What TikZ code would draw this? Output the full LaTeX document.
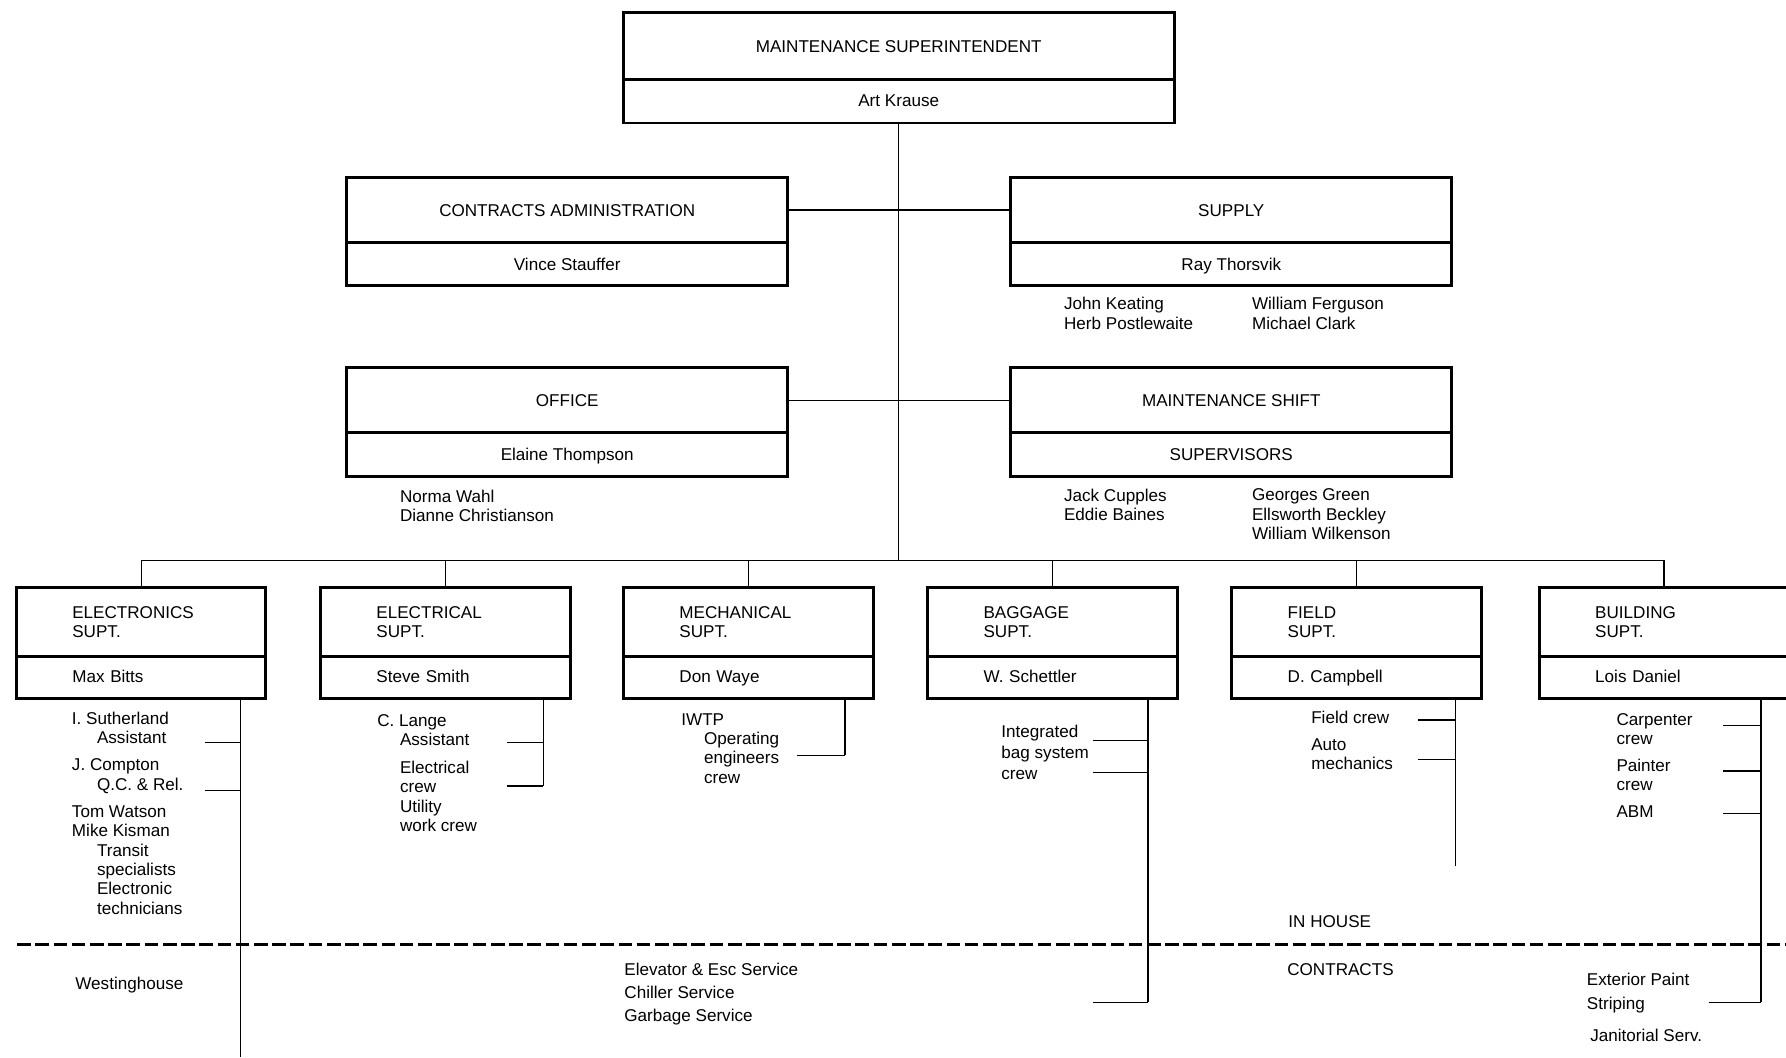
\documentclass[tikz,border=0pt]{standalone}
\usepackage{fontspec}
\setmainfont{Liberation Sans}
\usetikzlibrary{positioning}
\tikzstyle{headbox} = [rectangle, draw=black, line width=2.6pt, outer sep=0pt, text centered, inner sep=0pt, font=\fontsize{15}{17}\selectfont]
\tikzstyle{midbox} = [headbox, minimum width=387pt, minimum height=57pt]
\tikzstyle{midname} = [headbox, minimum width=387pt, minimum height=38pt, text height=14pt, text depth=3pt]
\tikzstyle{deptbox} = [rectangle, draw=black, line width=2.6pt, outer sep=0pt, align=left, text width=121pt, inner xsep=49pt, inner ysep=0pt, minimum height=60pt, font=\fontsize{15}{17}\selectfont]
\tikzstyle{deptname} = [deptbox, minimum height=37pt, text height=12pt, text depth=3pt]
\tikzstyle{staff} = [anchor=north west, align=left, inner sep=0pt, font=\fontsize{15}{17}\selectfont]
\tikzstyle{link} = [line width=1.2pt]
\tikzstyle{split} = [line width=3pt, dash pattern=on 12pt off 4pt]

\begin{document}
\begin{tikzpicture}[x=1pt, y=-1pt]
\useasboundingbox (0,0) rectangle (1568,928);

\node (supt) [headbox, minimum width=484pt, minimum height=59pt] at (789,40.5) {MAINTENANCE SUPERINTENDENT};
\node (suptname) [headbox, minimum width=484pt, minimum height=38pt, text height=12pt, text depth=3pt, below=0pt of supt] {Art Krause};

\node (contract) [midbox] at (498,184.5) {CONTRACTS ADMINISTRATION};
\node (contractname) [midname, below=0pt of contract] {Vince Stauffer};
\node (supply) [midbox] at (1081,184.5) {SUPPLY};
\node (supplyname) [midname, below=0pt of supply] {Ray Thorsvik};
\node (office) [midbox] at (498,351.5) {OFFICE};
\node (officename) [midname, below=0pt of office] {Elaine Thompson};
\node (shift) [midbox] at (1081,351.5) {MAINTENANCE SHIFT};
\node (shiftname) [midname, below=0pt of shift] {SUPERVISORS};

\node (supplyA) [staff] at (934,261) {John Keating\\Herb Postlewaite};
\node (supplyB) [staff] at (1099,261) {William Ferguson\\Michael Clark};
\node (officeA) [staff] at (351,430) {Norma Wahl\\Dianne Christianson};
\node (shiftA) [staff] at (934,429) {Jack Cupples\\Eddie Baines};
\node (shiftB) [staff] at (1099,429) {Georges Green\\Ellsworth Beckley\\William Wilkenson};

\coordinate (bus) at (789,492);
\draw [link] (suptname.south) -- (bus);
\draw [link] (contract.east) -- (supply.west);
\draw [link] (office.east) -- (shift.west);

% departments
\node (elnx) [deptbox] at (124,546) {ELECTRONICS\\SUPT.};
\node (elnxname) [deptname, below=0pt of elnx] {Max Bitts};
\node (elec) [deptbox] at (391,546) {ELECTRICAL\\SUPT.};
\node (elecname) [deptname, below=0pt of elec] {Steve Smith};
\node (mech) [deptbox] at (657,546) {MECHANICAL\\SUPT.};
\node (mechname) [deptname, below=0pt of mech] {Don Waye};
\node (bagg) [deptbox] at (924,546) {BAGGAGE\\SUPT.};
\node (baggname) [deptname, below=0pt of bagg] {W. Schettler};
\node (fild) [deptbox] at (1191,546) {FIELD\\SUPT.};
\node (fildname) [deptname, below=0pt of fild] {D. Campbell};
\node (bldg) [deptbox] at (1461,546) {BUILDING\\SUPT.};
\node (bldgname) [deptname, below=0pt of bldg] {Lois Daniel};

\foreach \n in {elnx, elec, mech, bagg, fild, bldg}
  \draw [link] (bus) -| (\n.north);

% crews
\node (elnxA) [staff] at (63,625) {I. Sutherland\\\hspace*{22pt}Assistant};
\node (elnxB) [staff] at (63,666) {J. Compton\\\hspace*{22pt}Q.C. \& Rel.};
\node (elnxC) [staff] at (63,707) {Tom Watson\\Mike Kisman\\\hspace*{22pt}Transit\\\hspace*{22pt}specialists\\\hspace*{22pt}Electronic\\\hspace*{22pt}technicians};
\node (elnxD) [staff] at (66,858) {Westinghouse};
\node (elecA) [staff] at (331,627) {C. Lange\\\hspace*{20pt}Assistant};
\node (elecB) [staff] at (351,668) {Electrical\\crew\\Utility\\work crew};
\node (mechA) [staff] at (598,626) {IWTP\\\hspace*{20pt}Operating\\\hspace*{20pt}engineers\\\hspace*{20pt}crew};
\node (mechB) [staff, font=\fontsize{15}{20.5}\selectfont] at (548,845) {Elevator \& Esc Service\\Chiller Service\\Garbage Service};
\node (baggA) [staff, font=\fontsize{15}{18.5}\selectfont] at (879,636) {Integrated\\bag system\\crew};
\node (fildA) [staff] at (1151,624) {Field crew};
\node (fildB) [staff] at (1151,648) {Auto\\mechanics};
\node (bldgA) [staff] at (1419,626) {Carpenter\\crew};
\node (bldgB) [staff] at (1419,666) {Painter\\crew};
\node (bldgC) [staff] at (1419,707) {ABM};
\node (bldgD) [staff, font=\fontsize{15}{21}\selectfont] at (1393,854) {Exterior Paint\\Striping};
\node (bldgE) [staff] at (1396,903) {Janitorial Serv.};

\coordinate (elnxend) at (211,928);
\coordinate (elecend) at (477,690);
\coordinate (mechend) at (742,663);
\coordinate (baggend) at (1008,880);
\coordinate (fildend) at (1278,760);
\coordinate (bldgend) at (1546,880);
\foreach \n in {elnx, elec, mech, bagg, fild, bldg}
  \draw [link] (\n name.south -| \n end) -- (\n end);
\foreach \y in {652,694} \draw [link] (180,\y) -- (211,\y);
\foreach \y in {652,690} \draw [link] (445,\y) -- (477,\y);
\draw [link] (700,663) -- (mechend);
\foreach \y in {650,678,880} \draw [link] (960,\y) -- (1008,\y);
\foreach \y in {632,667} \draw [link] (1245,\y) -- (1278,\y);
\foreach \y in {637,677,714} \draw [link] (1513,\y) -- (1546,\y);
\draw [link] (1500,880) -- (bldgend);

% in house / contracts
\coordinate (splitL) at (15,829);
\coordinate (splitR) at (1568,829);
\draw [split] (splitL) -- (splitR);
\node (inhouse) [staff] at (1131,804) {IN HOUSE};
\node (contracts) [staff] at (1130,846) {CONTRACTS};

\end{tikzpicture}
\end{document}
